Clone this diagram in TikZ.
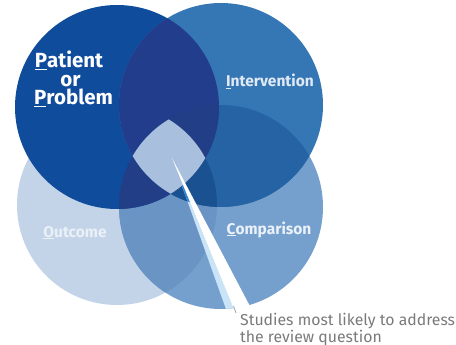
\documentclass[tikz,border=0pt]{standalone}
\usepackage{fontspec}
\setmainfont{Fira Sans}
\usetikzlibrary{calc}
\definecolor{colP}{HTML}{0F4C9B}
\definecolor{colI}{HTML}{3576B4}
\definecolor{colO}{HTML}{C3D4E9}
\definecolor{colC}{HTML}{75A0CD}
\definecolor{colOC}{HTML}{6A94C3}
\definecolor{colIC}{HTML}{2663A4}
\definecolor{colICO}{HTML}{1A5190}
\definecolor{colPI}{HTML}{213D8B}
\definecolor{colPC}{HTML}{213E86}
\definecolor{colLens}{HTML}{A8C0DD}
\definecolor{colBeam}{HTML}{C9E3F7}
\definecolor{colBeamDark}{HTML}{2A84D4}
\definecolor{colNote}{HTML}{7A7A7A}
\tikzset{
  bigpico/.style={text=white, inner sep=0pt, font=\fontsize{20.5}{20.5}\selectfont\bfseries},
  pico/.style={inner sep=0pt, font=\fontsize{15.5}{15.5}\selectfont\bfseries},
  note/.style={text=colNote, inner sep=0pt, anchor=base west, font=\fontsize{15.8}{17}\selectfont}
}
\begin{document}
\begin{tikzpicture}[x=1pt,y=-1pt]
\useasboundingbox (0,0) rectangle (456,345);
\def\circP{(117,107) circle (102pt)}
\def\circI{(221,105) circle (102pt)}
\def\circO{(117,205) circle (100pt)}
\def\circC{(221,207) circle (102pt)}
% circles
\fill[colO] \circO;
\fill[colC] \circC;
\begin{scope}\clip \circO; \fill[colOC] \circC; \end{scope}
\fill[colP] \circP;
\fill[colI] \circI;
% overlaps
\begin{scope}\clip \circI; \fill[colIC] \circC; \end{scope}
\begin{scope}\clip \circI; \clip \circC; \fill[colICO] \circO; \end{scope}
\begin{scope}\clip \circP; \fill[colPI] \circI; \end{scope}
\begin{scope}\clip \circP; \fill[colPC] \circC; \end{scope}
% beam
\coordinate (src) at (172,158);
\coordinate (tipL) at (227,312);
\coordinate (tipM) at (235,312);
\coordinate (tipR) at (253,312);
\begin{scope}\clip \circC;
\fill[colBeam] (src) -- (tipL) -- (tipM) -- cycle;
\end{scope}
\begin{scope}\clip \circP \circI;
\fill[colBeamDark] (src) -- (tipL) -- (tipM) -- cycle;
\end{scope}
\begin{scope}\clip \circP; \clip \circI; \clip \circO; \fill[colLens] \circC; \end{scope}
\fill[white] (src) -- (tipM) -- (tipR) -- cycle;
% labels
\node[bigpico, anchor=base] (patient) at (69,68) {\underline{P}atient};
\node[bigpico, anchor=base] (or) at (70.5,87) {or};
\node[bigpico, anchor=base] (problem) at (73.5,105) {\underline{P}roblem};
\node[pico, text=colI!15!white, anchor=base] (interv) at (270,87) {\underline{I}ntervention};
\node[pico, text=colO!35!white, anchor=base] (outcome) at (75,237) {\underline{O}utcome};
\node[pico, text=colC!15!white, anchor=base] (compar) at (269,234) {\underline{C}omparison};
\node[note] (studies) at (240,325) {Studies most likely to address};
\node[note] (question) at (240,342) {the review question};
\draw[colNote!70, line width=.8pt] (233.5,306) -- ++(2.5,7);
\end{tikzpicture}
\end{document}
